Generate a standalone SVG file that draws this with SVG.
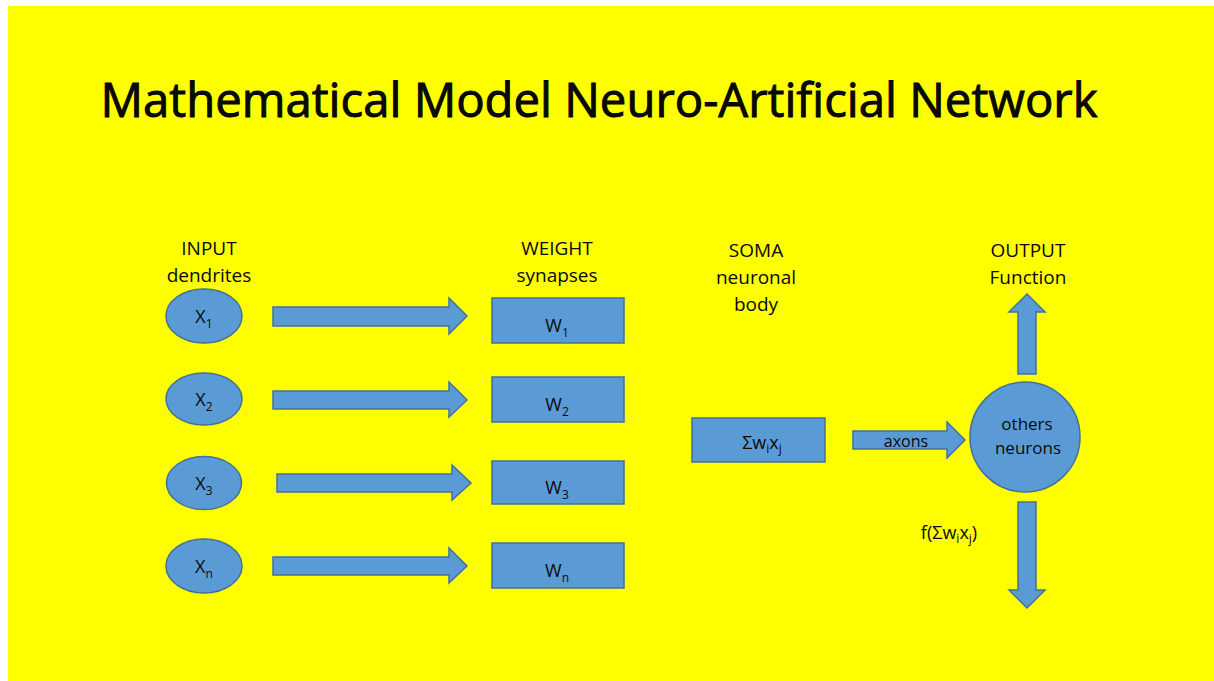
<svg xmlns="http://www.w3.org/2000/svg" width="1214" height="681" viewBox="0 0 1214 681">
<style>
.shape{fill:#5B9BD5;stroke:#41719C;stroke-width:1.5}
.t{font-family:"Open Sans","Liberation Sans",sans-serif;fill:#0a0a0a;text-anchor:middle}
.hdr{font-size:19px}
.lbl{font-size:18px}
.sub{font-size:12px}
</style>
<rect x="0" y="0" width="1214" height="681" fill="#ffffff"/>
<rect x="8" y="6" width="1206" height="675" fill="#FFFF00"/>
<text class="t" x="599" y="117" font-size="47" stroke="#000" stroke-width="0.9" textLength="997" lengthAdjust="spacingAndGlyphs">Mathematical Model Neuro-Artificial Network</text>
<g id="headers">
<text class="t hdr" x="209" y="255">INPUT</text>
<text class="t hdr" x="209" y="282">dendrites</text>
<text class="t hdr" x="557" y="255">WEIGHT</text>
<text class="t hdr" x="557" y="282">synapses</text>
<text class="t hdr" x="756" y="257">SOMA</text>
<text class="t hdr" x="756" y="284">neuronal</text>
<text class="t hdr" x="756" y="311">body</text>
<text class="t hdr" x="1028" y="257">OUTPUT</text>
<text class="t hdr" x="1028" y="284">Function</text>
</g>
<g id="connectors">
<path class="shape" d="M273,307 H449 V298 L467,316 L449,334 V326 H273 Z"/>
<path class="shape" d="M273,391 H449 V382 L467,400 L449,417 V409 H273 Z"/>
<path class="shape" d="M277,474 H452 V465 L471,483 L452,500 V492 H277 Z"/>
<path class="shape" d="M273,557 H449 V548 L467,566 L449,583 V575 H273 Z"/>
<path class="shape" d="M853,431 H947 V422 L965,440 L947,458 V449 H853 Z"/>
<path class="shape" d="M1018,374 V312 H1009 L1027,294 L1045,312 H1036 V374 Z"/>
<path class="shape" d="M1018,502 V590 H1009 L1027,608 L1045,590 H1036 V502 Z"/>
<text class="t" x="906" y="447" font-size="16">axons</text>
<text class="t lbl" x="949" y="539">f(Σw<tspan class="sub" dy="4">i</tspan><tspan dy="-4">x</tspan><tspan class="sub" dy="4">j</tspan><tspan dy="-4">)</tspan></text>
</g>
<g id="x1"><ellipse class="shape" cx="204" cy="316" rx="38" ry="27"/><text class="t lbl" x="204" y="323">X<tspan class="sub" dy="5">1</tspan></text></g>
<g id="x2"><ellipse class="shape" cx="204" cy="399" rx="38" ry="26"/><text class="t lbl" x="204" y="406">X<tspan class="sub" dy="5">2</tspan></text></g>
<g id="x3"><ellipse class="shape" cx="204" cy="483" rx="37.5" ry="26.5"/><text class="t lbl" x="204" y="490">X<tspan class="sub" dy="5">3</tspan></text></g>
<g id="xn"><ellipse class="shape" cx="204" cy="566" rx="38" ry="27"/><text class="t lbl" x="204" y="573">X<tspan class="sub" dy="5">n</tspan></text></g>
<g id="w1"><rect class="shape" x="492" y="298" width="132" height="45"/><text class="t lbl" x="557" y="332">W<tspan class="sub" dy="5">1</tspan></text></g>
<g id="w2"><rect class="shape" x="492" y="377" width="132" height="45"/><text class="t lbl" x="557" y="411">W<tspan class="sub" dy="5">2</tspan></text></g>
<g id="w3"><rect class="shape" x="492" y="461" width="132" height="43"/><text class="t lbl" x="557" y="494">W<tspan class="sub" dy="5">3</tspan></text></g>
<g id="wn"><rect class="shape" x="492" y="543" width="132" height="45"/><text class="t lbl" x="557" y="577">W<tspan class="sub" dy="5">n</tspan></text></g>
<g id="soma"><rect class="shape" x="692" y="418" width="133" height="44"/><text class="t lbl" x="762" y="449">Σw<tspan class="sub" dy="4">i</tspan><tspan dy="-4">x</tspan><tspan class="sub" dy="4">j</tspan></text></g>
<g id="neurons"><circle class="shape" cx="1025" cy="437" r="55"/><text class="t" x="1027" y="430" font-size="17">others</text><text class="t" x="1028" y="454" font-size="17">neurons</text></g>
</svg>
